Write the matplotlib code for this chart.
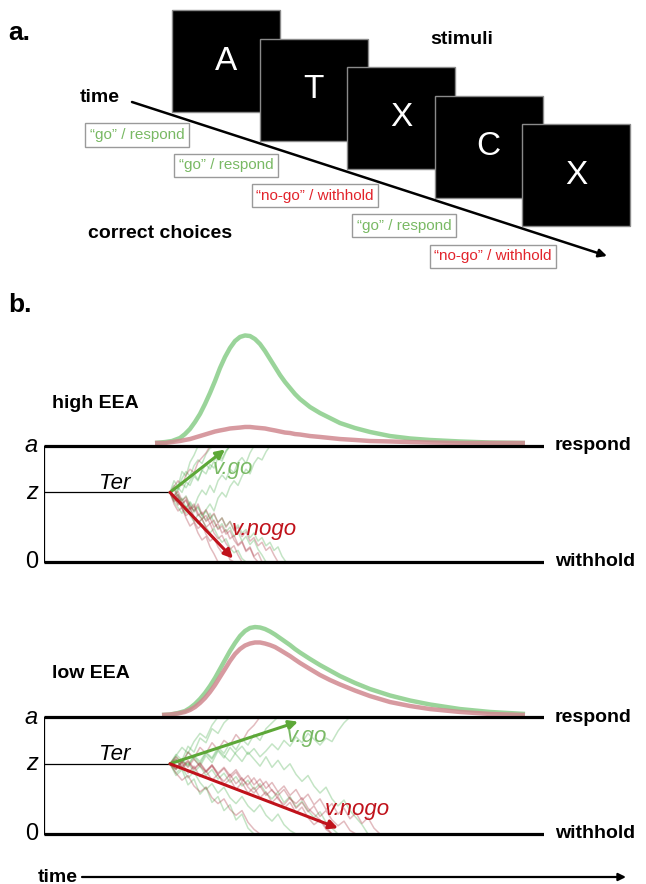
"""
Go/no-go task sketch + drift diffusion illustration (high vs low EEA)
"""

import numpy as np
import matplotlib
matplotlib.use('Agg')
import matplotlib.pyplot as plt
from matplotlib.patches import Rectangle

plt.rcParams['font.family'] = ['Liberation Sans', 'DejaVu Sans']

W, H = 646, 884

# ---- panel a: trial sequence ----
stim_letters = ['A', 'T', 'X', 'C', 'X']
choice_labels = ['\u201cgo\u201d / respond', '\u201cgo\u201d / respond',
                 '\u201cno-go\u201d / withhold', '\u201cgo\u201d / respond',
                 '\u201cno-go\u201d / withhold']
choice_is_go = [True, True, False, True, False]

# ---- panel b: diffusion model (time in ms, evidence: 0 = withhold, 1 = respond) ----
start_z = 0.6
ter_ms = 252

density_t_high = [222, 242, 256, 272, 282, 292, 302, 312, 322, 332, 342, 352, 362, 372,
                  382, 392, 402, 412, 422, 432, 442, 452, 462, 472, 482, 492, 502, 512,
                  532, 552, 572, 592, 622, 652, 692, 732, 772, 832, 892, 962]
go_density_high = [0.026, 0.034, 0.043, 0.069, 0.103, 0.147, 0.207, 0.276, 0.362, 0.457,
                   0.560, 0.672, 0.767, 0.845, 0.905, 0.940, 0.953, 0.948, 0.922, 0.879,
                   0.819, 0.750, 0.681, 0.612, 0.552, 0.500, 0.448, 0.405, 0.336, 0.284,
                   0.241, 0.198, 0.155, 0.121, 0.086, 0.065, 0.052, 0.039, 0.030, 0.026]
nogo_density_high = [0.026, 0.026, 0.034, 0.043, 0.052, 0.060, 0.073, 0.086, 0.099, 0.112,
                     0.125, 0.134, 0.142, 0.151, 0.155, 0.159, 0.164, 0.164, 0.159, 0.155,
                     0.151, 0.142, 0.134, 0.125, 0.116, 0.112, 0.103, 0.099, 0.086, 0.078,
                     0.069, 0.060, 0.052, 0.043, 0.039, 0.034, 0.030, 0.026, 0.026, 0.026]

density_t_low = [236, 252, 268, 282, 292, 302, 312, 322, 332, 342, 352, 362, 372, 382,
                 392, 402, 412, 422, 432, 442, 452, 462, 472, 482, 492, 502, 512, 532,
                 552, 572, 592, 622, 652, 692, 732, 772, 832, 892, 962]
go_density_low = [0.017, 0.021, 0.034, 0.051, 0.077, 0.111, 0.154, 0.205, 0.265, 0.333,
                  0.410, 0.487, 0.564, 0.632, 0.692, 0.735, 0.761, 0.769, 0.765, 0.752,
                  0.731, 0.705, 0.675, 0.645, 0.615, 0.581, 0.551, 0.496, 0.444, 0.397,
                  0.350, 0.291, 0.239, 0.184, 0.141, 0.107, 0.068, 0.043, 0.026]
nogo_density_low = [0.017, 0.021, 0.030, 0.043, 0.060, 0.085, 0.120, 0.162, 0.214, 0.274,
                    0.342, 0.410, 0.479, 0.538, 0.581, 0.611, 0.628, 0.637, 0.637, 0.628,
                    0.615, 0.598, 0.573, 0.547, 0.521, 0.491, 0.462, 0.410, 0.359, 0.316,
                    0.278, 0.226, 0.179, 0.128, 0.094, 0.068, 0.043, 0.026, 0.017]

# drift arrow end points (ms, evidence)
vgo_end_high = (362, 0.97)
vnogo_end_high = (378, 0.03)
vgo_end_low = (508, 0.96)
vnogo_end_low = (588, 0.05)

# example evidence traces, sampled every trace_step ms from Ter
trace_step_high = 8
go_traces_high = [
    [0.6, 0.66, 0.63, 0.72, 0.78, 0.74, 0.83, 0.88, 0.85, 0.93, 0.98, 1.0],
    [0.6, 0.55, 0.62, 0.68, 0.64, 0.7, 0.76, 0.71, 0.79, 0.84, 0.8, 0.87, 0.92, 0.89, 0.96, 1.0],
    [0.6, 0.54, 0.58, 0.5, 0.45, 0.52, 0.47, 0.56, 0.62, 0.58, 0.66, 0.6, 0.7, 0.75, 0.71, 0.8,
     0.77, 0.86, 0.9, 0.85, 0.94, 1.0],
    [0.6, 0.52, 0.47, 0.42, 0.48, 0.4, 0.35, 0.41, 0.37, 0.45, 0.5, 0.44, 0.55, 0.6, 0.56, 0.65,
     0.7, 0.66, 0.74, 0.8, 0.76, 0.85, 0.9, 0.88, 0.95, 1.0],
    [0.6, 0.53, 0.56, 0.47, 0.42, 0.46, 0.38, 0.33, 0.37, 0.3, 0.25, 0.29, 0.22, 0.17, 0.2, 0.12,
     0.08, 0.1, 0.03, 0.0],
    [0.6, 0.64, 0.58, 0.53, 0.57, 0.49, 0.44, 0.48, 0.4, 0.36, 0.42, 0.34, 0.29, 0.33, 0.26, 0.3,
     0.22, 0.26, 0.18, 0.22, 0.15, 0.19, 0.11, 0.06, 0.0],
    [0.6, 0.7, 0.65, 0.78, 0.74, 0.86, 0.92, 1.0],
    [0.6, 0.57, 0.64, 0.6, 0.69, 0.66, 0.74, 0.7, 0.79, 0.76, 0.84, 0.81, 0.9, 0.87, 0.95, 1.0],
    [0.6, 0.56, 0.5, 0.55, 0.47, 0.51, 0.43, 0.47, 0.4, 0.44, 0.37, 0.41, 0.34, 0.38, 0.31, 0.35,
     0.28, 0.32, 0.25, 0.28, 0.21, 0.25, 0.18, 0.21, 0.14, 0.17, 0.1, 0.13, 0.05, 0.0],
]
nogo_traces_high = [
    [0.6, 0.52, 0.55, 0.46, 0.4, 0.43, 0.35, 0.29, 0.32, 0.24, 0.18, 0.21, 0.13, 0.08, 0.1, 0.02, 0.0],
    [0.6, 0.56, 0.49, 0.52, 0.44, 0.47, 0.39, 0.34, 0.37, 0.3, 0.33, 0.25, 0.2, 0.23, 0.16, 0.11,
     0.14, 0.06, 0.0],
    [0.6, 0.63, 0.55, 0.5, 0.54, 0.46, 0.5, 0.42, 0.37, 0.4, 0.33, 0.36, 0.28, 0.31, 0.24, 0.27,
     0.19, 0.14, 0.17, 0.09, 0.12, 0.04, 0.0],
    [0.6, 0.57, 0.61, 0.53, 0.56, 0.48, 0.44, 0.5, 0.41, 0.45, 0.38, 0.42, 0.34, 0.38, 0.3, 0.35,
     0.27, 0.3, 0.22, 0.26, 0.18, 0.21, 0.14, 0.17, 0.1, 0.13, 0.06, 0.0],
    [0.6, 0.65, 0.7, 0.66, 0.75, 0.8, 0.77, 0.86, 0.9, 0.94, 1.0],
    [0.6, 0.5, 0.44, 0.47, 0.38, 0.31, 0.34, 0.25, 0.19, 0.22, 0.13, 0.07, 0.0],
    [0.6, 0.55, 0.58, 0.5, 0.53, 0.45, 0.48, 0.4, 0.43, 0.35, 0.38, 0.3, 0.33, 0.25, 0.28, 0.2,
     0.23, 0.15, 0.18, 0.1, 0.13, 0.05, 0.08, 0.0],
]

trace_step_low = 12
go_traces_low = [
    [0.6, 0.68, 0.63, 0.75, 0.7, 0.82, 0.78, 0.9, 0.86, 0.95, 1.0],
    [0.6, 0.55, 0.63, 0.58, 0.66, 0.6, 0.69, 0.64, 0.72, 0.67, 0.62, 0.7, 0.75, 0.68, 0.73, 0.66,
     0.71, 0.77, 0.72, 0.8, 0.75, 0.83, 0.78, 0.86, 0.81, 0.76, 0.82, 0.79, 0.88, 0.95, 1.0],
    [0.6, 0.52, 0.57, 0.48, 0.53, 0.44, 0.38, 0.43, 0.35, 0.4, 0.31, 0.26, 0.32, 0.24, 0.19, 0.25,
     0.16, 0.11, 0.17, 0.08, 0.03, 0.0],
    [0.6, 0.64, 0.56, 0.61, 0.53, 0.58, 0.5, 0.55, 0.47, 0.52, 0.44, 0.49, 0.41, 0.46, 0.38, 0.43,
     0.35, 0.3, 0.36, 0.27, 0.32, 0.23, 0.28, 0.2, 0.14, 0.19, 0.1, 0.05, 0.0],
    [0.6, 0.5, 0.55, 0.42, 0.47, 0.34, 0.4, 0.27, 0.32, 0.2, 0.25, 0.12, 0.17, 0.05, 0.0],
    [0.6, 0.66, 0.6, 0.7, 0.64, 0.58, 0.67, 0.61, 0.71, 0.65, 0.74, 0.68, 0.62, 0.7, 0.64, 0.58,
     0.66, 0.57, 0.63, 0.55, 0.6, 0.51, 0.45, 0.5, 0.41, 0.35, 0.4, 0.3, 0.24, 0.29, 0.2, 0.14,
     0.08, 0.0],
    [0.6, 0.67, 0.74, 0.69, 0.79, 0.86, 0.82, 0.93, 1.0],
    [0.6, 0.56, 0.63, 0.59, 0.67, 0.62, 0.7, 0.65, 0.74, 0.69, 0.78, 0.72, 0.81, 0.76, 0.85, 0.8,
     0.9, 0.95, 1.0],
]
nogo_traces_low = [
    [0.6, 0.66, 0.61, 0.7, 0.65, 0.74, 0.69, 0.78, 0.72, 0.8, 0.76, 0.85, 0.79, 0.88, 0.93, 1.0],
    [0.6, 0.55, 0.61, 0.52, 0.58, 0.49, 0.54, 0.46, 0.51, 0.42, 0.47, 0.38, 0.44, 0.35, 0.4, 0.31,
     0.36, 0.27, 0.32, 0.22, 0.27, 0.18, 0.23, 0.14, 0.08, 0.12, 0.04, 0.0],
    [0.6, 0.63, 0.57, 0.62, 0.55, 0.6, 0.53, 0.58, 0.5, 0.45, 0.51, 0.43, 0.48, 0.4, 0.35, 0.41,
     0.33, 0.38, 0.3, 0.25, 0.31, 0.22, 0.27, 0.19, 0.24, 0.15, 0.2, 0.12, 0.07, 0.11, 0.03, 0.0],
    [0.6, 0.56, 0.62, 0.57, 0.64, 0.58, 0.53, 0.59, 0.52, 0.57, 0.5, 0.55, 0.47, 0.42, 0.48, 0.4,
     0.45, 0.37, 0.33, 0.38, 0.3, 0.26, 0.31, 0.22, 0.17, 0.12, 0.06, 0.0],
    [0.6, 0.52, 0.46, 0.5, 0.41, 0.36, 0.4, 0.31, 0.26, 0.3, 0.21, 0.16, 0.2, 0.1, 0.04, 0.0],
    [0.6, 0.64, 0.58, 0.63, 0.56, 0.61, 0.54, 0.59, 0.51, 0.56, 0.48, 0.53, 0.45, 0.5, 0.42, 0.47,
     0.39, 0.44, 0.36, 0.41, 0.33, 0.38, 0.29, 0.34, 0.25, 0.3, 0.21, 0.26, 0.17, 0.22, 0.13,
     0.18, 0.09, 0.14, 0.05, 0.0],
]

# colours
GO_TXT = '#79b964'
NOGO_TXT = '#e2232b'
GO_DENS = '#8fd08f'
NOGO_DENS = '#d08890'
GO_ARROW = '#5da838'
NOGO_ARROW = '#c0121b'
GO_TRACE = '#4caf50'
NOGO_TRACE = '#a8323e'


def draw_ddm(fig, top_px, bottom_px, title, dens_t, go_dens, nogo_dens,
             go_traces, nogo_traces, step, vgo_end, vnogo_end, vgo_pos, vnogo_pos):
    """Draw one diffusion panel; bounds at pixel rows top_px (respond) and bottom_px (withhold)"""
    sep = bottom_px - top_px
    y_bot = bottom_px + 12
    y_top = top_px - 128
    ax = fig.add_axes([44 / W, 1 - y_bot / H, 500 / W, (y_bot - y_top) / H])
    ax.set_xlim(0, 1000)
    ax.set_ylim(-12 / sep, 1 + 128 / sep)
    ax.axis('off')

    # traces
    for tr in go_traces:
        t = ter_ms + step * np.arange(len(tr))
        ax.plot(t, tr, color=GO_TRACE, alpha=0.33, lw=1.1, zorder=2)
    for tr in nogo_traces:
        t = ter_ms + step * np.arange(len(tr))
        ax.plot(t, tr, color=NOGO_TRACE, alpha=0.33, lw=1.1, zorder=2)

    # first passage densities on top of the respond bound
    ax.plot(dens_t, 1 + np.array(go_dens), color=GO_DENS, lw=3.2, alpha=0.9,
            solid_capstyle='butt', solid_joinstyle='round', zorder=3)
    ax.plot(dens_t, 1 + np.array(nogo_dens), color=NOGO_DENS, lw=3.2, alpha=0.85,
            solid_capstyle='butt', solid_joinstyle='round', zorder=3)

    # bounds, wall, start point
    ax.plot([0, 1000], [1, 1], color='k', lw=2.3, solid_capstyle='butt', zorder=4)
    ax.plot([0, 1000], [0, 0], color='k', lw=2.3, solid_capstyle='butt', zorder=4)
    ax.plot([0, 0], [0, 1], color='k', lw=0.9, zorder=4)
    ax.plot([0, ter_ms], [start_z, start_z], color='k', lw=0.9, zorder=4)

    # drift arrows
    ax.annotate('', xy=vgo_end, xytext=(ter_ms, start_z),
                arrowprops=dict(arrowstyle='-|>', color=GO_ARROW, lw=2.2,
                                mutation_scale=13, shrinkA=0, shrinkB=0), zorder=5)
    ax.annotate('', xy=vnogo_end, xytext=(ter_ms, start_z),
                arrowprops=dict(arrowstyle='-|>', color=NOGO_ARROW, lw=2.2,
                                mutation_scale=13, shrinkA=0, shrinkB=0), zorder=5)

    ax.text(vgo_pos[0], vgo_pos[1], 'v.go', color=GO_TXT, style='italic',
            fontsize=16, ha='left', va='center', zorder=6)
    ax.text(vnogo_pos[0], vnogo_pos[1], 'v.nogo', color=NOGO_ARROW, style='italic',
            fontsize=16, ha='left', va='center', zorder=6)

    # labels
    ax.text(-12, 1, 'a', style='italic', fontsize=17, ha='right', va='center', clip_on=False)
    ax.text(-12, start_z, 'z', style='italic', fontsize=17, ha='right', va='center', clip_on=False)
    ax.text(-12, 0, '0', fontsize=17, ha='right', va='center', clip_on=False)
    ax.text(142, start_z + 0.08, 'Ter', style='italic', fontsize=16, ha='center', va='center')
    ax.text(1022, 1, 'respond', fontweight='bold', fontsize=14, ha='left', va='center',
            clip_on=False)
    ax.text(1022, 0, 'withhold', fontweight='bold', fontsize=14, ha='left', va='center',
            clip_on=False)
    ax.text(16, 1 + 0.37, title, fontweight='bold', fontsize=14, ha='left', va='center')
    return ax


def main():
    fig = plt.figure(figsize=(W / 100, H / 100), dpi=100)
    ax = fig.add_axes([0, 0, 1, 1])
    ax.set_xlim(0, W)
    ax.set_ylim(H, 0)
    ax.axis('off')

    # ---- panel a ----
    ax.text(8, 33, 'a.', fontweight='bold', fontsize=19, ha='left', va='center')

    for i, letter in enumerate(stim_letters):
        x0 = 172 + 87.5 * i
        y0 = 10 + 28.5 * i
        ax.add_patch(Rectangle((x0, y0), 108, 102, facecolor='black', edgecolor='#8a8a8a',
                               lw=1, zorder=2 + i))
        ax.text(x0 + 54, y0 + 51, letter, color='white', fontsize=24, ha='center',
                va='center', zorder=2 + i)

    ax.text(430, 40, 'stimuli', fontweight='bold', fontsize=14, ha='left', va='center')
    ax.text(80, 98, 'time', fontweight='bold', fontsize=14, ha='left', va='center')
    ax.annotate('', xy=(607, 256), xytext=(132, 102),
                arrowprops=dict(arrowstyle='-|>', color='k', lw=1.8, mutation_scale=12,
                                shrinkA=0, shrinkB=0), zorder=10)

    for i, (lab, is_go) in enumerate(zip(choice_labels, choice_is_go)):
        ax.text(137 + 89 * i, 135 + 30.3 * i, lab, color=GO_TXT if is_go else NOGO_TXT,
                fontsize=11, ha='center', va='center',
                bbox=dict(boxstyle='square,pad=0.3', fc='white', ec='#9a9a9a', lw=1))

    ax.text(88, 233, 'correct choices', fontweight='bold', fontsize=14, ha='left', va='center')

    # ---- panel b ----
    ax.text(8, 305, 'b.', fontweight='bold', fontsize=19, ha='left', va='center')

    draw_ddm(fig, 446, 562, 'high EEA', density_t_high, go_density_high, nogo_density_high,
             go_traces_high, nogo_traces_high, trace_step_high,
             vgo_end_high, vnogo_end_high, (338, 0.81), (376, 0.28))
    draw_ddm(fig, 717, 834, 'low EEA', density_t_low, go_density_low, nogo_density_low,
             go_traces_low, nogo_traces_low, trace_step_low,
             vgo_end_low, vnogo_end_low, (486, 0.83), (562, 0.21))

    ax.text(38, 877, 'time', fontweight='bold', fontsize=14, ha='left', va='center')
    ax.annotate('', xy=(626, 877), xytext=(82, 877),
                arrowprops=dict(arrowstyle='-|>', color='k', lw=1.6, mutation_scale=11,
                                shrinkA=0, shrinkB=0))

    fig.savefig('out.png', dpi=100)


if __name__ == '__main__':
    main()
